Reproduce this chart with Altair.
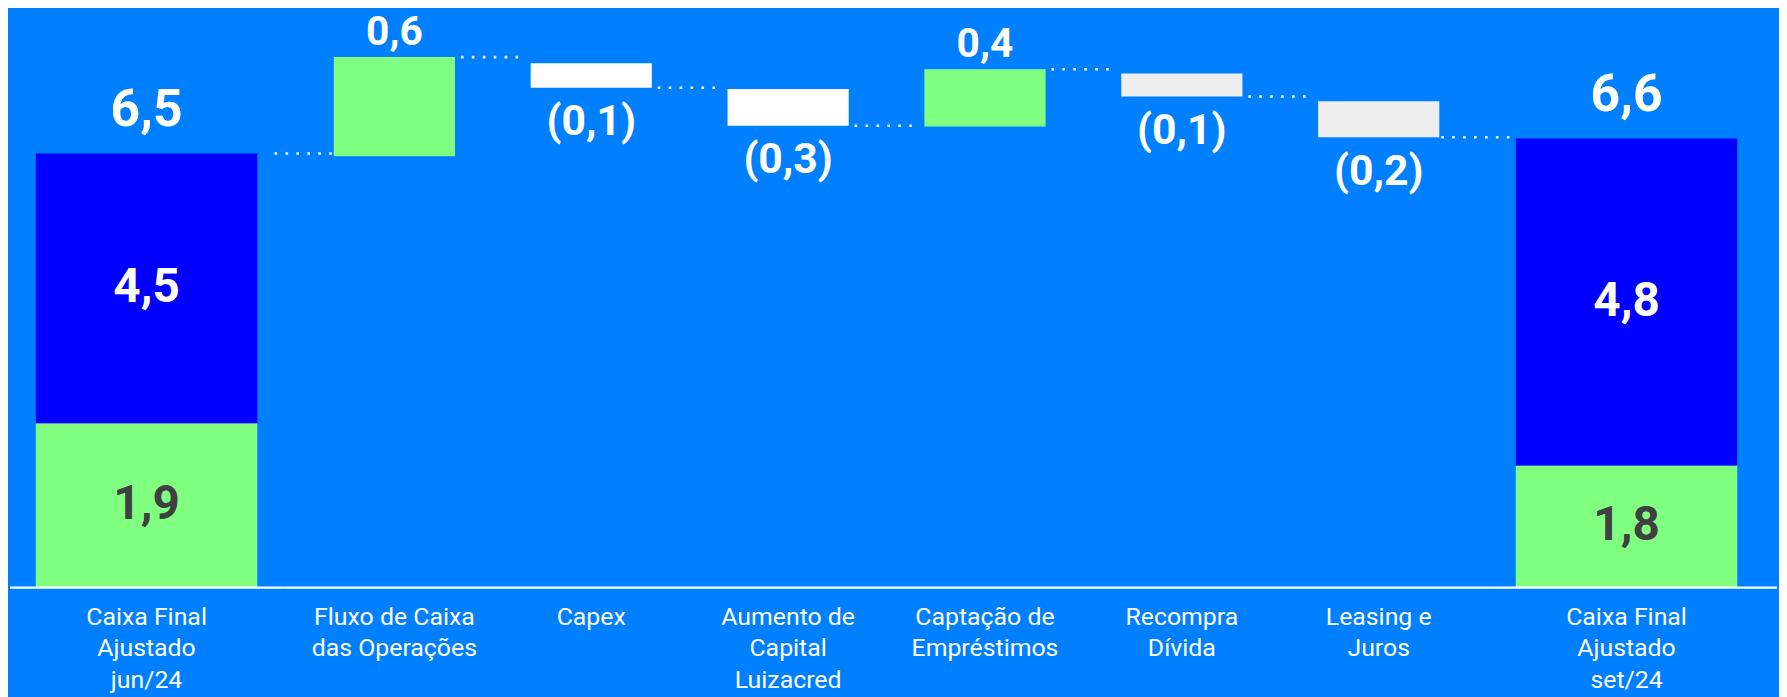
import altair as alt
import pandas as pd

# ---------------- data ----------------
categorias = [
    "Caixa Final\nAjustado\njun/24",
    "Fluxo de Caixa\ndas Operações",
    "Capex",
    "Aumento de\nCapital\nLuizacred",
    "Captação de\nEmpréstimos",
    "Recompra\nDívida",
    "Leasing e\nJuros",
    "Caixa Final\nAjustado\nset/24",
]
rotulos = ["6,5", "0,6", "(0,1)", "(0,3)", "0,4", "(0,1)", "(0,2)", "6,6"]
variacao = [6.5, 0.6, -0.1, -0.3, 0.4, -0.1, -0.2, 6.6]
# extent of each bar as drawn in the original (the drawing is not to scale)
inicio = [0.0, 6.35, 7.72, 7.34, 6.79, 7.57, 7.16, 0.0]
fim = [6.39, 7.81, 7.36, 6.80, 7.63, 7.23, 6.63, 6.61]
grupo = ["total", "entrada", "saida_inv", "saida_inv", "entrada", "saida_fin", "saida_fin", "total"]

# composition of the two cash totals
seg_categoria = [categorias[0], categorias[0], categorias[7], categorias[7]]
seg_parte = ["inferior", "superior", "inferior", "superior"]
seg_inicio = [0.0, 2.42, 0.0, 1.80]
seg_fim = [2.42, 6.39, 1.80, 6.61]
seg_rotulo = ["1,9", "4,5", "1,8", "4,8"]

df = pd.DataFrame({"cat": categorias, "rotulo": rotulos, "valor": variacao,
                   "inicio": inicio, "fim": fim, "grupo": grupo})
seg = pd.DataFrame({"cat": seg_categoria, "parte": seg_parte, "inicio": seg_inicio,
                    "fim": seg_fim, "rotulo": seg_rotulo})
conn = pd.DataFrame({"de": categorias[:-1], "para": categorias[1:], "nivel": fim[:-1]})

# ---------------- styling ----------------
FONT = "Roboto"
BG = "#0080FF"
H = 689
Y_DOM = [-1.5746, 8.4985]
DOT = [2.6, 8.4]


def yenc(field):
    return alt.Y(f"{field}:Q", scale=alt.Scale(domain=Y_DOM, nice=False, zero=False), axis=None)


def xenc(field, dom, pi, po, align=0.5):
    return alt.X(f"{field}:N", sort=dom,
                 scale=alt.Scale(domain=dom, paddingInner=pi, paddingOuter=po, align=align),
                 axis=None)


def common_layers(dom, xs):
    base_line = alt.Chart(df).transform_aggregate(n="count()").mark_rule(
        color="white", strokeWidth=2.2
    ).encode(x=alt.value(0), x2=alt.value("width"), y=alt.datum(0))
    xlabels = alt.Chart(df).transform_filter(
        alt.FieldOneOfPredicate(field="cat", oneOf=dom)
    ).mark_text(
        font=FONT, fontSize=25, color="white", baseline="alphabetic", align="center",
        lineBreak="\n", lineHeight=31.5, dy=37.5, clip=True
    ).encode(x=xs, y=alt.datum(0), text="cat:N")
    return base_line, xlabels


def end_panel(cat, width, po, align):
    dom = [cat]
    xs = xenc("cat", dom, 0, po, align)
    segs = alt.Chart(seg).transform_filter(alt.FieldEqualPredicate(field="cat", equal=cat))
    bars = segs.mark_bar().encode(
        x=xs, y=yenc("inicio"), y2="fim:Q",
        fill=alt.Fill("parte:N", scale=alt.Scale(domain=["inferior", "superior"],
                                                 range=["#80FF80", "#0000FF"]), legend=None),
    )
    seg_text = segs.transform_calculate(meio="(datum.inicio + datum.fim) / 2").mark_text(
        font=FONT, fontSize=48, fontWeight="bold", baseline="middle", clip=True
    ).encode(
        x=xs, y=yenc("meio"), text="rotulo:N",
        color=alt.condition(alt.datum.parte == "inferior", alt.value("#404040"), alt.value("white")),
    )
    total = alt.Chart(df).transform_filter(alt.FieldEqualPredicate(field="cat", equal=cat)).mark_text(
        font=FONT, fontSize=52, fontWeight="bold", color="white", baseline="middle", dy=-44, clip=True
    ).encode(x=xs, y=yenc("fim"), text="rotulo:N")
    base_line, xlabels = common_layers(dom, xs)
    return alt.layer(bars, seg_text, total, base_line, xlabels).properties(width=width, height=H)


def middle_panel(width, pi, po):
    dom = categorias[1:7]
    xs = xenc("cat", dom, pi, po)
    xs_de = xenc("de", dom, pi, po)
    xs_para = xenc("para", dom, pi, po)
    bars = alt.Chart(df).transform_filter(
        alt.FieldOneOfPredicate(field="cat", oneOf=dom)
    ).mark_bar().encode(
        x=xs, y=yenc("inicio"), y2="fim:Q",
        fill=alt.Fill("grupo:N", scale=alt.Scale(domain=["entrada", "saida_inv", "saida_fin"],
                                                 range=["#80FF80", "#FFFFFF", "#EEEEEE"]), legend=None),
    )
    inner = alt.Chart(conn).transform_filter(
        alt.FieldOneOfPredicate(field="de", oneOf=categorias[1:6])
    ).mark_rule(color="white", strokeWidth=2.6, strokeDash=DOT, xOffset=67, x2Offset=-68).encode(
        x=xs_de, x2="para:N", y=yenc("nivel")
    )
    cross_in = alt.Chart(conn).transform_filter(
        alt.FieldEqualPredicate(field="de", equal=categorias[0])
    ).mark_rule(color="white", strokeWidth=2.6, strokeDash=DOT, xOffset=-63, x2Offset=-129).encode(
        x=xs_para, x2="para:N", y=yenc("nivel")
    )
    cross_out = alt.Chart(conn).transform_filter(
        alt.FieldEqualPredicate(field="de", equal=categorias[6])
    ).mark_rule(color="white", strokeWidth=2.6, strokeDash=DOT, xOffset=63, x2Offset=136).encode(
        x=xs_de, x2="de:N", y=yenc("nivel")
    )
    pos = alt.Chart(df).transform_filter(
        alt.FieldOneOfPredicate(field="cat", oneOf=dom)
    ).transform_filter("datum.valor > 0").mark_text(
        font=FONT, fontSize=41, fontWeight="bold", color="white", baseline="middle", dy=-24, clip=True
    ).encode(x=xs, y=yenc("fim"), text="rotulo:N")
    neg = alt.Chart(df).transform_filter(
        alt.FieldOneOfPredicate(field="cat", oneOf=dom)
    ).transform_filter("datum.valor < 0").mark_text(
        font=FONT, fontSize=43, fontWeight="bold", color="white", baseline="middle", dy=35, clip=True
    ).encode(x=xs, y=yenc("fim"), text="rotulo:N")
    base_line, xlabels = common_layers(dom, xs)
    return alt.layer(inner, cross_in, cross_out, bars, pos, neg, base_line, xlabels).properties(
        width=width, height=H)


p1 = end_panel(categorias[0], 275, 0.1166, 0.5)
p2 = middle_panel(1215, 0.3845, 0.2574)
p3 = end_panel(categorias[7], 289, 0.148, 0.394)

chart = alt.hconcat(p1, p2, p3, spacing=0, bounds="flush").resolve_scale(
    x="independent", y="independent", fill="independent"
).properties(
    padding=0,
    background=BG,
).configure_view(stroke=None)

chart.save("out.html", embed_options={"renderer": "svg", "actions": False})
